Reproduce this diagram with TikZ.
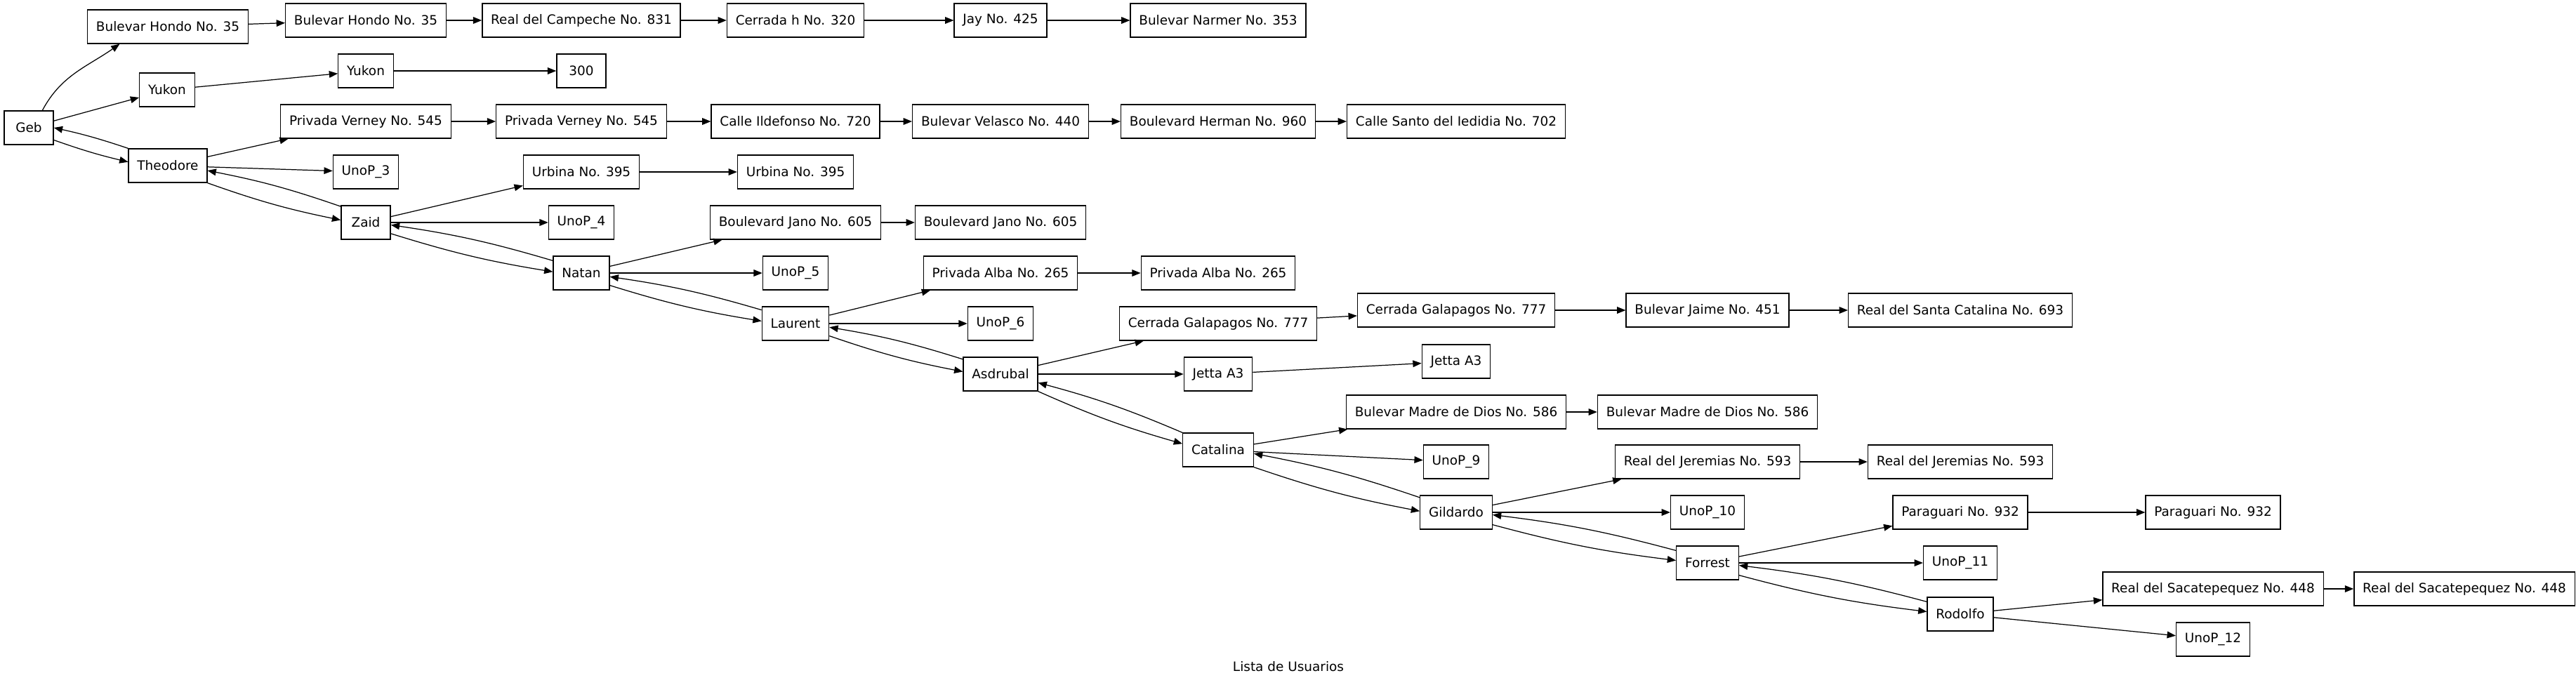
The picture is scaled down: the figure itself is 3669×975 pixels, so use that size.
\documentclass[tikz,border=0pt]{standalone}
\usepackage{fontspec}
\setmainfont{DejaVu Sans}
\usetikzlibrary{arrows.meta,positioning}
\tikzstyle{usr}=[draw, line width=0.75pt, minimum height=27.3pt, minimum width=40pt, inner xsep=7pt, font=\fontsize{10.5}{12}\selectfont]
\tikzstyle{lnk}=[->, line width=0.7pt]

\begin{document}
\begin{tikzpicture}[x=0.02cm,y=0.02cm,>={Triangle[length=7pt,width=5.5pt]}]
\useasboundingbox (0,0) rectangle (3669,-975);

% ---- columna 0 y 1
\node[usr] at (41,-182) (geb) {Geb};
\node[usr] at (239,-38) (bh1) {Bulevar Hondo No. 35};
\node[usr] at (238,-128) (yuk1) {Yukon};
\node[usr] at (239,-236) (theo) {Theodore};

% ---- columna 2
\node[usr] at (521,-29) (bh2) {Bulevar Hondo No. 35};
\node[usr] at (521,-101) (yuk2) {Yukon};
\node[usr] at (521,-173) (pv1) {Privada Verney No. 545};
\node[usr] at (521,-245) (unop3) {UnoP\_3};
\node[usr] at (521,-317) (zaid) {Zaid};

% ---- columna 3
\node[usr] at (828,-29) (camp) {Real del Campeche No. 831};
\node[usr] at (828,-101) (n300) {300};
\node[usr] at (828,-173) (pv2) {Privada Verney No. 545};
\node[usr] at (828,-245) (urb1) {Urbina No. 395};
\node[usr] at (828,-317) (unop4) {UnoP\_4};
\node[usr] at (828,-389) (natan) {Natan};

% ---- columna 4
\node[usr] at (1133,-29) (cerr) {Cerrada h No. 320};
\node[usr] at (1133,-173) (ildef) {Calle Ildefonso No. 720};
\node[usr] at (1133,-245) (urb2) {Urbina No. 395};
\node[usr] at (1133,-317) (jano1) {Boulevard Jano No. 605};
\node[usr] at (1133,-389) (unop5) {UnoP\_5};
\node[usr] at (1133,-461) (laur) {Laurent};

% ---- columna 5
\node[usr] at (1425,-29) (jay) {Jay No. 425};
\node[usr] at (1425,-173) (vel) {Bulevar Velasco No. 440};
\node[usr] at (1425,-317) (jano2) {Boulevard Jano No. 605};
\node[usr] at (1425,-389) (alba1) {Privada Alba No. 265};
\node[usr] at (1425,-461) (unop6) {UnoP\_6};
\node[usr] at (1425,-533) (asd) {Asdrubal};

% ---- columna 6
\node[usr] at (1735,-29) (narm) {Bulevar Narmer No. 353};
\node[usr] at (1735,-173) (herm) {Boulevard Herman No. 960};
\node[usr] at (1735,-389) (alba2) {Privada Alba No. 265};
\node[usr] at (1735,-461) (gal1) {Cerrada Galapagos No. 777};
\node[usr] at (1735,-533) (jetta1) {Jetta A3};
\node[usr] at (1735,-641) (cat) {Catalina};

% ---- columna 7
\node[usr] at (2074,-173) (ied) {Calle Santo del Iedidia No. 702};
\node[usr] at (2074,-442) (gal2) {Cerrada Galapagos No. 777};
\node[usr] at (2074,-515) (jetta2) {Jetta A3};
\node[usr] at (2074,-587) (madre1) {Bulevar Madre de Dios No. 586};
\node[usr] at (2074,-658) (unop9) {UnoP\_9};
\node[usr] at (2074,-730) (gild) {Gildardo};

% ---- columna 8
\node[usr] at (2432,-442) (jaime) {Bulevar Jaime No. 451};
\node[usr] at (2432,-587) (madre2) {Bulevar Madre de Dios No. 586};
\node[usr] at (2432,-658) (jer1) {Real del Jeremias No. 593};
\node[usr] at (2432,-730) (unop10) {UnoP\_10};
\node[usr] at (2432,-802) (forr) {Forrest};

% ---- columna 9, 10, 11
\node[usr] at (2792,-442) (scat) {Real del Santa Catalina No. 693};
\node[usr] at (2792,-658) (jer2) {Real del Jeremias No. 593};
\node[usr] at (2792,-730) (par1) {Paraguari No. 932};
\node[usr] at (2792,-802) (unop11) {UnoP\_11};
\node[usr] at (2792,-875) (rod) {Rodolfo};
\node[usr] at (3152,-730) (par2) {Paraguari No. 932};
\node[usr] at (3152,-839) (sac1) {Real del Sacatepequez No. 448};
\node[usr] at (3152,-911) (unop12) {UnoP\_12};
\node[usr] at (3510,-839) (sac2) {Real del Sacatepequez No. 448};

\node[font=\fontsize{10.5}{12}\selectfont] at (1835,-950) (titulo) {Lista de Usuarios};

% listas de direcciones
\draw[lnk] ([xshift=11pt]geb.north) to[out=62,in=-145] ([xshift=-39pt]bh1.south);
\draw[lnk] (bh1) -- (bh2);
\draw[lnk] (bh2) -- (camp);
\draw[lnk] (camp) -- (cerr);
\draw[lnk] (cerr) -- (jay);
\draw[lnk] (jay) -- (narm);
\draw[lnk] (geb) -- (yuk1);
\draw[lnk] (yuk1) -- (yuk2);
\draw[lnk] (yuk2) -- (n300);
\draw[lnk] (theo) -- (pv1);
\draw[lnk] (pv1) -- (pv2);
\draw[lnk] (pv2) -- (ildef);
\draw[lnk] (ildef) -- (vel);
\draw[lnk] (vel) -- (herm);
\draw[lnk] (herm) -- (ied);
\draw[lnk] (theo) -- (unop3);
\draw[lnk] (zaid) -- (urb1);
\draw[lnk] (urb1) -- (urb2);
\draw[lnk] (zaid) -- (unop4);
\draw[lnk] (natan) -- (jano1);
\draw[lnk] (jano1) -- (jano2);
\draw[lnk] (natan) -- (unop5);
\draw[lnk] (laur) -- (alba1);
\draw[lnk] (alba1) -- (alba2);
\draw[lnk] (laur) -- (unop6);
\draw[lnk] (asd) -- (gal1);
\draw[lnk] (gal1) -- (gal2);
\draw[lnk] (gal2) -- (jaime);
\draw[lnk] (jaime) -- (scat);
\draw[lnk] (asd) -- (jetta1);
\draw[lnk] (jetta1) -- (jetta2);
\draw[lnk] (cat) -- (madre1);
\draw[lnk] (madre1) -- (madre2);
\draw[lnk] (cat) -- (unop9);
\draw[lnk] (gild) -- (jer1);
\draw[lnk] (jer1) -- (jer2);
\draw[lnk] (gild) -- (unop10);
\draw[lnk] (forr) -- (par1);
\draw[lnk] (par1) -- (par2);
\draw[lnk] (forr) -- (unop11);
\draw[lnk] (rod) -- (sac1);
\draw[lnk] (sac1) -- (sac2);
\draw[lnk] (rod) -- (unop12);

% lista doble de usuarios
\draw[lnk] ([yshift=-10pt]geb.east) to[bend right=3] ([yshift=3pt]theo.west);
\draw[lnk] (theo.north west) to[bend right=3] (geb.east);
\draw[lnk] (theo.south east) to[bend right=4] ([yshift=2pt]zaid.west);
\draw[lnk] ([yshift=-1pt]zaid.north west) to[bend right=4] ([yshift=-4pt]theo.east);
\draw[lnk] ([yshift=5pt]zaid.south east) to[bend right=4] ([yshift=1pt]natan.west);
\draw[lnk] ([yshift=-4pt]natan.north west) to[bend right=4] ([yshift=-2pt]zaid.east);
\draw[lnk] ([yshift=4pt]natan.south east) to[bend right=4] ([yshift=2pt]laur.west);
\draw[lnk] ([yshift=-3pt]laur.north west) to[bend right=4] ([yshift=-3pt]natan.east);
\draw[lnk] ([yshift=4pt]laur.south east) to[bend right=4] ([yshift=2pt]asd.west);
\draw[lnk] ([yshift=-2pt]asd.north west) to[bend right=4] ([yshift=-3pt]laur.east);
\draw[lnk] (asd.south east) to[bend right=4] ([yshift=5pt]cat.west);
\draw[lnk] (cat.north west) to[bend right=4] ([yshift=-7pt]asd.east);
\draw[lnk] (cat.south east) to[bend right=4] ([yshift=1pt]gild.west);
\draw[lnk] ([yshift=-2pt]gild.north west) to[bend right=4] ([yshift=-3pt]cat.east);
\draw[lnk] ([yshift=4pt]gild.south east) to[bend right=4] ([yshift=2pt]forr.west);
\draw[lnk] ([yshift=-4pt]forr.north west) to[bend right=4] ([yshift=-2pt]gild.east);
\draw[lnk] ([yshift=4pt]forr.south east) to[bend right=4] ([yshift=2pt]rod.west);
\draw[lnk] ([yshift=-4pt]rod.north west) to[bend right=4] ([yshift=-2pt]forr.east);
\end{tikzpicture}
\end{document}
